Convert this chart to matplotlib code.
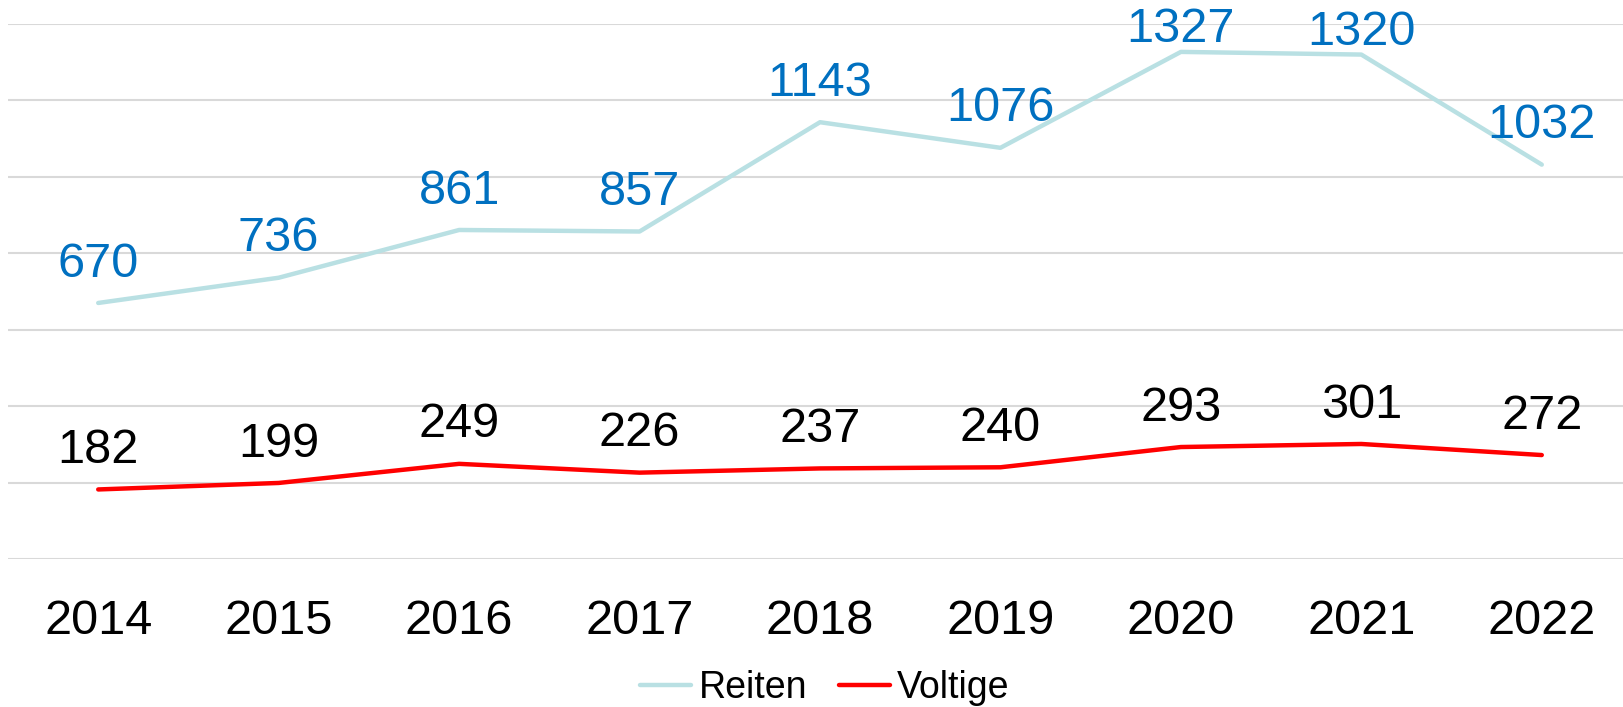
import matplotlib
matplotlib.use("Agg")
import matplotlib.pyplot as plt

plt.rcParams["font.family"] = ["Liberation Sans", "DejaVu Sans"]

years = ["2014", "2015", "2016", "2017", "2018", "2019", "2020", "2021", "2022"]
reiten = [670, 736, 861, 857, 1143, 1076, 1327, 1320, 1032]
voltige = [182, 199, 249, 226, 237, 240, 293, 301, 272]

fig = plt.figure(figsize=(16.23, 7.07), dpi=100)
# axes run a little past the right edge, as in the original
ax = fig.add_axes([8 / 1623, 1 - 559 / 707, (1632 - 8) / 1623, (559 - 24) / 707])

x = list(range(len(years)))
ax.plot(x, reiten, color="#B9E0E3", lw=3.2, solid_capstyle="round", label="Reiten")
ax.plot(x, voltige, color="#FF0000", lw=3.2, solid_capstyle="round", label="Voltige")

for xi, v in zip(x, reiten):
    # labels near the top get pushed down to stay inside the chart
    off = 7 if v > 1250 else 19
    ax.annotate(str(v), (xi, v), xytext=(0, off), textcoords="offset points",
                ha="center", va="baseline", fontsize=35, color="#0070C0")
for xi, v in zip(x, voltige):
    ax.annotate(str(v), (xi, v), xytext=(0, 19), textcoords="offset points",
                ha="center", va="baseline", fontsize=35, color="black")

ax.set_xlim(-0.5, len(years) - 0.5)
ax.set_ylim(0, 1400)
ax.set_yticks(range(0, 1401, 200))
ax.set_yticklabels([])
ax.set_xticks(x)
ax.set_xticklabels(years, fontsize=35)
ax.tick_params(axis="both", length=0)
ax.tick_params(axis="x", pad=29)
ax.grid(axis="y", color="#D9D9D9", lw=1.5)
ax.set_axisbelow(True)
for s in ax.spines.values():
    s.set_visible(False)

fig.legend(loc="center", bbox_to_anchor=(825 / 1623, 1 - 688 / 707), ncol=2,
           frameon=False, fontsize=27, handlelength=1.35, handletextpad=0.2,
           columnspacing=0.85, borderpad=0)

fig.savefig("out.png", dpi=100)
